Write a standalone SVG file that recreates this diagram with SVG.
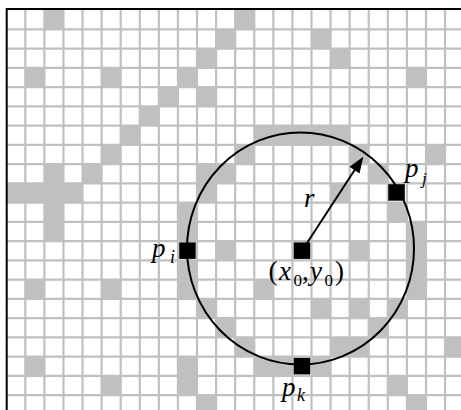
<svg xmlns="http://www.w3.org/2000/svg" width="461" height="410" viewBox="0 0 461 410">
<style>
.cell{fill:#c0c0c0}
.grid{stroke:#c0c0c0;stroke-width:2.2;fill:none}
.pt{fill:#000}
.lbl{font-family:"Liberation Serif","Times New Roman",serif;fill:#000}
.it{font-style:italic}
</style>
<defs>
<rect id="c" width="19.08" height="19.25" class="cell"/>
</defs>
<rect x="0" y="0" width="461" height="410" fill="#fff"/>
<g id="grid">
<path class="grid" d="M25.3 9V410M44.38 9V410M63.46 9V410M82.54 9V410M101.62 9V410M120.7 9V410M139.78 9V410M158.86 9V410M177.94 9V410M197.02 9V410M216.1 9V410M235.18 9V410M254.26 9V410M273.34 9V410M292.42 9V410M311.5 9V410M330.58 9V410M349.66 9V410M368.74 9V410M387.82 9V410M406.9 9V410M425.98 9V410M445.06 9V410M6 29.3H461M6 48.55H461M6 67.8H461M6 87.05H461M6 106.3H461M6 125.55H461M6 144.8H461M6 164.05H461M6 183.3H461M6 202.55H461M6 221.8H461M6 241.05H461M6 260.3H461M6 279.55H461M6 298.8H461M6 318.05H461M6 337.3H461M6 356.55H461M6 375.8H461M6 395.05H461"/>
</g>
<g id="cells">
<!-- row 0 -->
<use href="#c" x="44.38" y="10.05"/><use href="#c" x="235.18" y="10.05"/>
<!-- row 1 -->
<use href="#c" x="216.1" y="29.3"/><use href="#c" x="311.5" y="29.3"/>
<!-- row 2 -->
<use href="#c" x="197.02" y="48.55"/><use href="#c" x="330.58" y="48.55"/>
<!-- row 3 -->
<use href="#c" x="25.3" y="67.8"/><use href="#c" x="101.62" y="67.8"/><use href="#c" x="177.94" y="67.8"/><use href="#c" x="406.9" y="67.8"/>
<!-- row 4 -->
<use href="#c" x="158.86" y="87.05"/><use href="#c" x="197.02" y="87.05"/>
<!-- row 5 -->
<use href="#c" x="139.78" y="106.3"/>
<!-- row 6 -->
<use href="#c" x="120.7" y="125.55"/><use href="#c" x="254.26" y="125.55"/><use href="#c" x="273.34" y="125.55"/><use href="#c" x="292.42" y="125.55"/><use href="#c" x="311.5" y="125.55"/><use href="#c" x="330.58" y="125.55"/>
<!-- row 7 -->
<use href="#c" x="101.62" y="144.8"/><use href="#c" x="235.18" y="144.8"/><use href="#c" x="349.66" y="144.8"/><use href="#c" x="425.98" y="144.8"/>
<!-- row 8 -->
<use href="#c" x="44.38" y="164.05"/><use href="#c" x="82.54" y="164.05"/><use href="#c" x="197.02" y="164.05"/><use href="#c" x="216.1" y="164.05"/><use href="#c" x="368.74" y="164.05"/>
<!-- row 9 -->
<use href="#c" x="6.22" y="183.3"/><use href="#c" x="25.3" y="183.3"/><use href="#c" x="44.38" y="183.3"/><use href="#c" x="63.46" y="183.3"/><use href="#c" x="197.02" y="183.3"/><use href="#c" x="330.58" y="183.3"/>
<!-- row 10 -->
<use href="#c" x="44.38" y="202.55"/><use href="#c" x="177.94" y="202.55"/><use href="#c" x="387.82" y="202.55"/>
<!-- row 11 -->
<use href="#c" x="44.38" y="221.8"/><use href="#c" x="177.94" y="221.8"/><use href="#c" x="406.9" y="221.8"/>
<!-- row 12 -->
<use href="#c" x="216.1" y="241.05"/><use href="#c" x="349.66" y="241.05"/><use href="#c" x="406.9" y="241.05"/>
<!-- row 13 -->
<use href="#c" x="177.94" y="260.3"/><use href="#c" x="406.9" y="260.3"/>
<!-- row 14 -->
<use href="#c" x="25.3" y="279.55"/><use href="#c" x="101.62" y="279.55"/><use href="#c" x="177.94" y="279.55"/><use href="#c" x="254.26" y="279.55"/><use href="#c" x="406.9" y="279.55"/>
<!-- row 15 -->
<use href="#c" x="197.02" y="298.8"/><use href="#c" x="311.5" y="298.8"/><use href="#c" x="349.66" y="298.8"/><use href="#c" x="387.82" y="298.8"/>
<!-- row 16 -->
<use href="#c" x="216.1" y="318.05"/><use href="#c" x="368.74" y="318.05"/>
<!-- row 17 -->
<use href="#c" x="235.18" y="337.3"/><use href="#c" x="330.58" y="337.3"/><use href="#c" x="349.66" y="337.3"/><use href="#c" x="445.06" y="337.3"/>
<!-- row 18 -->
<use href="#c" x="25.3" y="356.55"/><use href="#c" x="177.94" y="356.55"/><use href="#c" x="254.26" y="356.55"/><use href="#c" x="273.34" y="356.55"/><use href="#c" x="311.5" y="356.55"/>
<!-- row 19 -->
<use href="#c" x="101.62" y="375.8"/><use href="#c" x="177.94" y="375.8"/><use href="#c" x="387.82" y="375.8"/>
<!-- row 20 -->
<use href="#c" x="197.02" y="395.05"/><use href="#c" x="406.9" y="395.05"/>
</g>
<g id="border">
<path d="M6.7 410V9H461" fill="none" stroke="#000" stroke-width="2"/>
</g>
<g id="circle">
<ellipse cx="300.5" cy="248.5" rx="113.5" ry="116" fill="none" stroke="#000" stroke-width="2"/>
</g>
<g id="connectors">
<line x1="302" y1="250.7" x2="354.8" y2="169.8" stroke="#000" stroke-width="2"/>
<polygon points="363.3,156.7 359.5,173.4 349.5,166.8" fill="#000"/>
</g>
<g id="center">
<rect class="pt" x="293.7" y="242.4" width="16.5" height="16.5"/>
<text class="lbl" font-size="27" x="268.5" y="280">(</text>
<text class="lbl it" font-size="27" x="279" y="280">x</text>
<text class="lbl" font-size="17" x="293.5" y="286">0</text>
<text class="lbl" font-size="27" x="302" y="280">,</text>
<text class="lbl it" font-size="27" x="310" y="280">y</text>
<text class="lbl" font-size="17" x="324.5" y="286">0</text>
<text class="lbl" font-size="27" x="335" y="280">)</text>
</g>
<g id="p_i">
<rect class="pt" x="179.2" y="242.4" width="16.5" height="16.5"/>
<text class="lbl it" font-size="27" x="152" y="257">p</text>
<text class="lbl it" font-size="18" x="170" y="263">i</text>
</g>
<g id="p_j">
<rect class="pt" x="388.3" y="184.2" width="16.5" height="16.5"/>
<text class="lbl it" font-size="27" x="405" y="177">p</text>
<text class="lbl it" font-size="17" x="422" y="184">j</text>
</g>
<g id="p_k">
<rect class="pt" x="293.7" y="357.9" width="16.5" height="16.5"/>
<text class="lbl it" font-size="27" x="282" y="396">p</text>
<text class="lbl it" font-size="18" x="297" y="401">k</text>
</g>
<g id="r">
<text class="lbl it" font-size="27" x="304" y="207">r</text>
</g>
</svg>
